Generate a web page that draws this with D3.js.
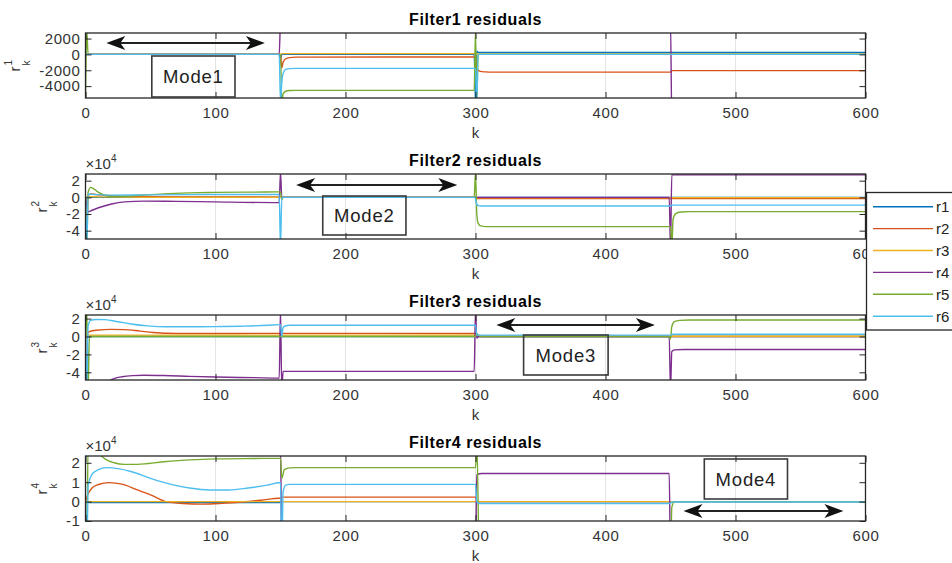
<!DOCTYPE html>
<html>
<head>
<meta charset="utf-8">
<script src="https://cdn.jsdelivr.net/npm/d3@7"></script>
<style>
body { margin: 0; background: #fff; }
svg text { font-family: "Liberation Sans", Arial, Helvetica, sans-serif; }
</style>
</head>
<body>
<svg id="chart" width="952" height="563"></svg>
<script>
// ---- data, [k, value] pairs ----
const kTicks = [0, 100, 200, 300, 400, 500, 600];
const seriesNames = ["r1", "r2", "r3", "r4", "r5", "r6"];
const titles = ["Filter1 residuals", "Filter2 residuals", "Filter3 residuals", "Filter4 residuals"];
const yLimits = [[-5500, 2700], [-50000, 28000], [-48600, 24000], [-10000, 23500]];
const yTicks = [[-4000, -2000, 0, 2000], [-40000, -20000, 0, 20000], [-40000, -20000, 0, 20000], [-10000, 0, 10000, 20000]];
const yExponent = [0, 4, 4, 4];

// Filter1
const f1_r1 = [[0,0],[149,0],[150,-600],[151,0],[299,0],[300,-6000],[301,400],[302,260],[600,260]];
const f1_r2 = [[0,0],[149,0],[150,0],[151,-1700],[152,-1000],[154,-550],[157,-400],[162,-340],[299,-330],[300,-330],[301,-1800],[303,-2100],[307,-2200],[315,-2230],[449,-2230],[450,-2230],[451,-2050],[600,-2050]];
const f1_r3 = [[0,0],[149,0],[150,0],[151,100],[299,100],[300,100],[301,50],[600,50]];
const f1_r4 = [[0,0],[149,0],[150,4000],[449,4000],[450,4000],[451,-8000],[600,-8000]];
const f1_r5 = [[0,-6000],[1,3000],[2,0],[149,0],[150,0],[151,-6000],[152,-5000],[154,-4650],[157,-4560],[162,-4540],[299,-4540],[300,3000],[301,-6000],[302,0],[600,0]];
const f1_r6 = [[0,0],[149,0],[150,-6000],[151,-3500],[152,-2400],[154,-1900],[157,-1790],[162,-1760],[299,-1760],[300,-1760],[301,-6000],[302,0],[600,0]];

// Filter2
const f2_r1 = [[0,0],[600,0]];
const f2_r2 = [[0,0],[1,-40000],[2,2500],[5,4000],[10,3000],[20,2000],[40,1000],[70,500],[149,300],[150,0],[299,0],[300,0],[301,-1500],[600,-1500]];
const f2_r3 = [[0,0],[2,800],[10,500],[50,0],[299,0],[300,0],[301,-300],[600,-300]];
const f2_r4 = [[0,0],[1,-10000],[2,-17500],[5,-15500],[10,-12500],[20,-8000],[30,-5500],[45,-4500],[70,-4800],[100,-5500],[149,-6300],[150,30000],[151,0],[449,0],[450,-60000],[451,27000],[600,27000]];
const f2_r5 = [[0,0],[1,-60000],[2,6000],[4,12000],[6,10500],[10,6000],[15,2500],[20,1000],[30,1200],[45,2800],[60,4200],[80,5300],[100,5900],[130,6300],[149,6500],[150,6500],[151,-3000],[152,0],[299,0],[300,30000],[301,-20000],[302,-31000],[304,-34300],[308,-35100],[315,-35200],[449,-35200],[450,-35200],[451,-60000],[452,-26000],[454,-19500],[458,-17600],[465,-17200],[600,-17200]];
const f2_r6 = [[0,0],[1,-60000],[2,4000],[5,3600],[10,3200],[20,2600],[50,3000],[100,3400],[149,3500],[150,-60000],[151,0],[299,0],[300,-2000],[301,-8500],[303,-10200],[306,-10400],[449,-10400],[450,-10400],[451,-9300],[600,-9300]];

// Filter3
const f3_r1 = [[0,0],[600,0]];
const f3_r2 = [[0,0],[3,5500],[8,7000],[20,7900],[30,7700],[42,6000],[52,4500],[62,3600],[80,3300],[149,3500],[150,3500],[299,3400],[300,3400],[301,0],[600,0]];
const f3_r3 = [[0,0],[2,1500],[299,1500],[300,1500],[301,300],[600,300]];
const f3_r4 = [[0,0],[1,-60000],[18,-49500],[22,-47000],[28,-45000],[36,-43700],[45,-43300],[60,-43600],[80,-44500],[100,-45300],[130,-46000],[149,-46500],[150,30000],[151,-60000],[152,-39000],[299,-39000],[300,30000],[301,-2000],[302,0],[449,0],[450,-60000],[451,-17000],[453,-15000],[460,-14500],[600,-14500]];
const f3_r5 = [[0,0],[1,30000],[2,-60000],[3,0],[149,0],[150,0],[299,0],[300,0],[301,3000],[303,600],[305,0],[449,0],[450,-3000],[451,11000],[453,16500],[457,18000],[465,18400],[600,18400]];
const f3_r6 = [[0,0],[1,-60000],[2,12000],[4,18000],[8,19000],[15,18800],[25,16500],[35,14000],[48,11800],[62,10800],[80,10800],[100,11000],[120,11500],[140,12500],[149,13300],[150,13300],[151,0],[152,10000],[154,12000],[157,12500],[299,12500],[300,12500],[301,1500],[449,1500],[450,1500],[451,2500],[600,2500]];

// Filter4
const f4_r1 = [[0,0],[3,-500],[149,-500],[150,-500],[151,0],[600,0]];
const f4_r2 = [[0,0],[2,4000],[5,7000],[10,8800],[18,9800],[28,9000],[40,6000],[50,3500],[62,0],[75,-1000],[90,-1300],[105,-900],[120,-200],[135,700],[149,1700],[150,1700],[151,2300],[299,2300],[300,2300],[301,0],[600,0]];
const f4_r3 = [[0,0],[600,0]];
const f4_r4 = [[0,30000],[150,30000],[151,-30000],[300,-30000],[301,13800],[305,14500],[449,14500],[450,-30000],[600,-30000]];
const f4_r5 = [[0,0],[1,-30000],[2,30000],[10,25000],[15,22000],[22,20000],[30,19200],[40,19200],[60,20500],[80,21500],[100,22000],[130,22200],[149,22300],[150,22300],[151,12000],[153,16500],[157,17400],[162,17500],[299,17500],[300,17500],[301,30000],[303,-30000],[449,-30000],[450,-30000],[451,-3000],[453,0],[600,0]];
const f4_r6 = [[0,0],[1,-30000],[2,8000],[5,14000],[10,16500],[16,17500],[25,17000],[35,15500],[50,12000],[65,9000],[80,7000],[95,6000],[110,6000],[125,7000],[140,8500],[149,9700],[150,9700],[151,-30000],[152,5000],[154,8500],[157,8900],[299,8900],[300,8900],[301,0],[303,-1000],[449,-1000],[450,-1000],[451,-200],[600,-200]];

const filterSeries = [
  [f1_r1, f1_r2, f1_r3, f1_r4, f1_r5, f1_r6],
  [f2_r1, f2_r2, f2_r3, f2_r4, f2_r5, f2_r6],
  [f3_r1, f3_r2, f3_r3, f3_r4, f3_r5, f3_r6],
  [f4_r1, f4_r2, f4_r3, f4_r4, f4_r5, f4_r6]
];

// annotations
const modeNames = ["Mode1", "Mode2", "Mode3", "Mode4"];
const modeArrowK = [[16, 138], [162, 286], [316, 438], [460, 583]];
const modeBoxK = [[51, 115], [182.5, 246.5], [337, 402], [476, 540]];

// ---- layout ----
const colors = ["#0072BD", "#D95319", "#EDB120", "#7E2F8E", "#77AC30", "#4DBEEE"];
const axTops = [33, 174, 315, 456];
const axH = 65;
const arrowDy = [10, 11, 10, 55];
const boxDy = [[23, 64], [22, 61], [20, 60], [3, 43]];
const axisColor = "#262626";

const svg = d3.select("#chart");
const x = d3.scaleLinear().domain([0, 600]).range([85.5, 865.5]);

filterSeries.forEach(function(series, i) {
  var top = axTops[i], bottom = top + axH;
  var y = d3.scaleLinear().domain(yLimits[i]).range([bottom, top]);
  var g = svg.append("g");

  svg.append("clipPath").attr("id", "clip" + i)
    .append("rect").attr("x", x(0)).attr("y", top).attr("width", x(600) - x(0)).attr("height", axH);

  // x grid
  g.append("g").selectAll("line").data(kTicks).join("line")
    .attr("x1", d => x(d)).attr("x2", d => x(d))
    .attr("y1", top).attr("y2", bottom)
    .attr("stroke", "#e3e3e3").attr("stroke-width", 1);

  // residual lines
  var line = d3.line().x(d => x(d[0])).y(d => y(d[1])).curve(d3.curveMonotoneX);
  g.append("g").attr("clip-path", "url(#clip" + i + ")")
    .selectAll("path").data(series).join("path")
    .attr("d", line)
    .attr("fill", "none")
    .attr("stroke", (d, j) => colors[j])
    .attr("stroke-width", 1.4);

  // axes (ticks inside, like matlab)
  var fmt = function(v) { return String(v / Math.pow(10, yExponent[i])); };
  var xb = g.append("g").attr("transform", "translate(0," + bottom + ")")
    .call(d3.axisBottom(x).tickValues(kTicks).tickSize(-6).tickSizeOuter(0).tickPadding(9));
  var xt = g.append("g").attr("transform", "translate(0," + top + ")")
    .call(d3.axisTop(x).tickValues(kTicks).tickSize(-6).tickSizeOuter(0).tickFormat(""));
  var yl = g.append("g").attr("transform", "translate(" + x(0) + ",0)")
    .call(d3.axisLeft(y).tickValues(yTicks[i]).tickSize(-6).tickSizeOuter(0).tickPadding(5).tickFormat(fmt));
  var yr = g.append("g").attr("transform", "translate(" + x(600) + ",0)")
    .call(d3.axisRight(y).tickValues(yTicks[i]).tickSize(-6).tickSizeOuter(0).tickFormat(""));
  [xb, xt, yl, yr].forEach(function(a) {
    a.select(".domain").remove();
    a.selectAll(".tick line").attr("stroke", axisColor);
    a.selectAll("text").attr("fill", "#333").attr("font-size", "15px")
      .attr("letter-spacing", "0.6px").attr("font-family", "'Liberation Sans', Arial, sans-serif");
  });

  g.append("rect").attr("x", x(0)).attr("y", top).attr("width", x(600) - x(0)).attr("height", axH)
    .attr("fill", "none").attr("stroke", axisColor).attr("stroke-width", 1.3);

  // title and x label
  g.append("text").attr("x", (x(0) + x(600)) / 2).attr("y", top - 8)
    .attr("text-anchor", "middle").attr("font-size", "16px").attr("font-weight", "bold")
    .attr("letter-spacing", "0.6px").attr("fill", "#000").text(titles[i]);
  g.append("text").attr("x", (x(0) + x(600)) / 2).attr("y", bottom + 40)
    .attr("text-anchor", "middle").attr("font-size", "15px").attr("fill", "#333").text("k");

  // exponent label
  if (yExponent[i]) {
    var ex = g.append("text").attr("x", x(0)).attr("y", top - 5).attr("font-size", "15px").attr("fill", "#333");
    ex.append("tspan").text("\u00d710");
    ex.append("tspan").attr("dy", -7).attr("font-size", "10px").text(String(yExponent[i]));
  }

  // y label r_k^i
  var bb = yl.node().getBBox();
  var rx = x(0) + bb.x - 19;
  var cy = (top + bottom) / 2;
  var lab = g.append("g").attr("transform", "translate(" + rx + "," + cy + ") rotate(-90)");
  lab.append("text").attr("x", -6).attr("y", 0).attr("font-size", "15px").attr("fill", "#333").text("r");
  lab.append("text").attr("x", 0).attr("y", -8).attr("font-size", "10px").attr("fill", "#333").text(String(i + 1));
  lab.append("text").attr("x", 0).attr("y", 10).attr("font-size", "10px").attr("fill", "#333").text("k");

  // mode arrow + box
  var ay = top + arrowDy[i];
  var a0 = x(modeArrowK[i][0]), a1 = x(modeArrowK[i][1]);
  g.append("line").attr("x1", a0 + 12).attr("x2", a1 - 12).attr("y1", ay).attr("y2", ay)
    .attr("stroke", "#222").attr("stroke-width", 1.8);
  [[a0, 1], [a1, -1]].forEach(function(h) {
    var t = h[0], s = h[1];
    g.append("path")
      .attr("d", "M" + t + "," + ay + "L" + (t + s * 19) + "," + (ay - 7) + "L" + (t + s * 14) + "," + ay + "L" + (t + s * 19) + "," + (ay + 7) + "Z")
      .attr("fill", "#111");
  });
  var bx0 = x(modeBoxK[i][0]), bx1 = x(modeBoxK[i][1]);
  var by0 = top + boxDy[i][0], by1 = top + boxDy[i][1];
  g.append("rect").attr("x", bx0).attr("y", by0).attr("width", bx1 - bx0).attr("height", by1 - by0)
    .attr("fill", "none").attr("stroke", "#3a3a3a").attr("stroke-width", 1.6);
  g.append("text").attr("x", (bx0 + bx1) / 2).attr("y", (by0 + by1) / 2 + 6.5)
    .attr("text-anchor", "middle").attr("font-size", "18.5px").attr("letter-spacing", "0.8px")
    .attr("fill", "#222").text(modeNames[i]);
});

// legend
const leg = svg.append("g");
leg.append("rect").attr("x", 866.5).attr("y", 192.5).attr("width", 100).attr("height", 137.5)
  .attr("fill", "#fff").attr("stroke", axisColor).attr("stroke-width", 1.3);
seriesNames.forEach(function(name, j) {
  var ly = 206.7 + j * 21.9;
  leg.append("line").attr("x1", 873).attr("x2", 933).attr("y1", ly).attr("y2", ly)
    .attr("stroke", colors[j]).attr("stroke-width", 1.4);
  leg.append("text").attr("x", 936).attr("y", ly + 5.5).attr("font-size", "15px").attr("fill", "#222").text(name);
});
</script>
</body>
</html>
